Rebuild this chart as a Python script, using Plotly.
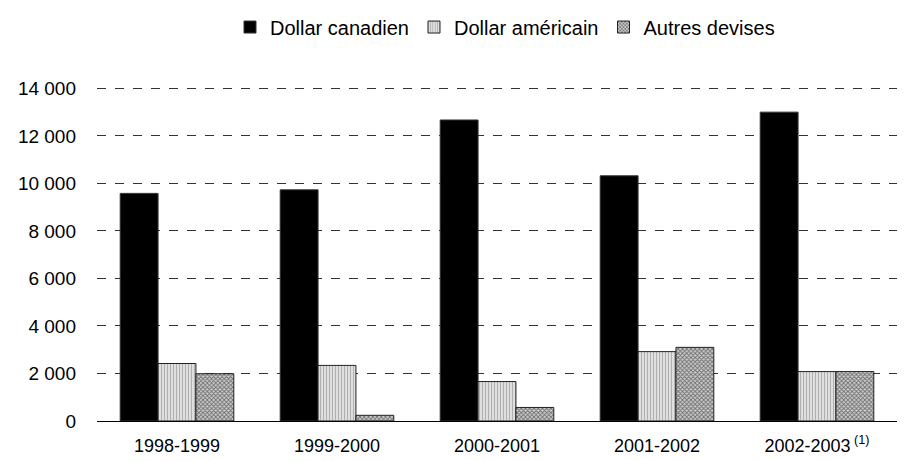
import plotly.graph_objects as go

periodes = ["1998-1999", "1999-2000", "2000-2001", "2001-2002", "2002-2003<sup> (1)</sup>"]
dollar_canadien = [9580, 9730, 12670, 10320, 13000]
dollar_americain = [2420, 2340, 1660, 2920, 2080]
autres_devises = [1990, 240, 570, 3100, 2080]
graduations = list(range(0, 14001, 2000))

fig = go.Figure()
fig.add_trace(go.Bar(
    name="Dollar canadien", x=periodes, y=dollar_canadien,
    marker=dict(color="black", line=dict(color="#333333", width=1)),
))
fig.add_trace(go.Bar(
    name="Dollar américain", x=periodes, y=dollar_americain,
    marker=dict(color="white", line=dict(color="#222222", width=1),
                pattern=dict(shape="|", fgcolor="#777777", bgcolor="#e8e8e8", size=3, solidity=0.45)),
))
fig.add_trace(go.Bar(
    name="Autres devises", x=periodes, y=autres_devises,
    marker=dict(color="white", line=dict(color="#222222", width=1),
                pattern=dict(shape="x", fgcolor="#111111", bgcolor="#cccccc", size=3, solidity=0.5)),
))

# la page ajoute une marge de 8 px autour du graphique : on la compense ici
fig.update_layout(
    width=921, height=461,
    margin=dict(l=89, r=32, t=78, b=48, autoexpand=False),
    paper_bgcolor="white", plot_bgcolor="white",
    font=dict(family="Liberation Sans, Arial", size=18, color="black"),
    barmode="group", bargap=0.29, bargroupgap=0,
    showlegend=True,
    legend=dict(orientation="h", x=0.51, xanchor="center", y=1.176, yanchor="middle",
                font=dict(size=20), itemwidth=30, traceorder="normal",
                tracegroupgap=0),
    xaxis=dict(showline=True, linecolor="black", linewidth=1, ticks="", showgrid=False,
               tickfont=dict(size=18), ticklabelstandoff=8),
    # un peu de marge au-dessus de 14 000 pour que la ligne pointillée du haut s'affiche
    yaxis=dict(range=[0, 14100], tickvals=graduations,
               ticktext=[f"{v:,}".replace(",", " ") for v in graduations],
               showgrid=True, gridcolor="#333333", griddash="dash", gridwidth=1,
               zeroline=True, zerolinecolor="black", zerolinewidth=1,
               showline=False, ticks="", ticklabelstandoff=20, tickfont=dict(size=19)),
)

fig.write_html("out.html")
